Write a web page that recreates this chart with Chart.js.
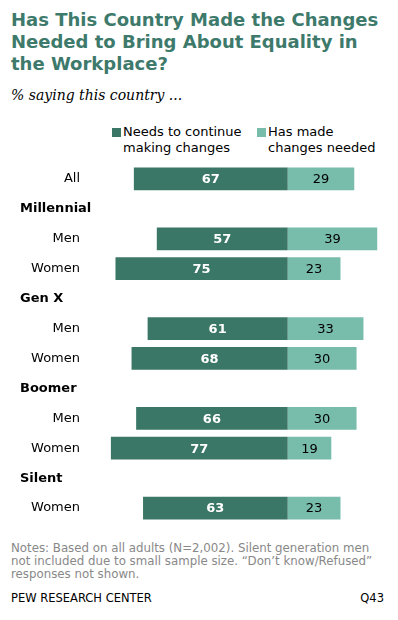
<!DOCTYPE html>
<html>
<head>
<meta charset="utf-8">
<script src="https://cdn.jsdelivr.net/npm/chart.js@4"></script>
<style>
  body { margin: 0; width: 398px; height: 620px; background: #fff; position: relative; font-family: Verdana, "DejaVu Sans", sans-serif; overflow: hidden; }
  #title { position: absolute; left: 11px; top: 9px; font-weight: bold; font-size: 18px; line-height: 22px; color: #3e7a6b; white-space: nowrap; }
  #sub { position: absolute; left: 11px; top: 87px; font-family: Georgia, "DejaVu Serif", serif; font-style: italic; font-size: 14px; }
  .leg { position: absolute; top: 124px; font-size: 13px; line-height: 16px; color: #000; }
  .leg span { position: absolute; left: 0; top: 4px; width: 9px; height: 9px; }
  .leg div { margin-left: 11px; white-space: nowrap; }
  #notes { position: absolute; left: 11px; top: 542px; font-size: 11.8px; line-height: 13px; color: #888; white-space: nowrap; }
  #src { position: absolute; left: 11px; top: 591px; font-size: 11.5px; }
  #q { position: absolute; right: 14px; top: 591px; font-size: 11.5px; }
  #wrap { position: absolute; left: 0; top: 155px; width: 398px; height: 375px; }
</style>
</head>
<body>
<div id="title">Has This Country Made the Changes<br>Needed to Bring About Equality in<br>the Workplace?</div>
<div id="sub">% saying this country ...</div>
<div class="leg" style="left:112px"><span style="background:#3b7766"></span><div>Needs to continue<br>making changes</div></div>
<div class="leg" style="left:257px"><span style="background:#78bcab"></span><div>Has made<br>changes needed</div></div>
<div id="wrap"><canvas id="myChart"></canvas></div>
<div id="notes">Notes: Based on all adults (N=2,002). Silent generation men<br>not included due to small sample size. “Don’t know/Refused”<br>responses not shown.</div>
<div id="src">PEW RESEARCH CENTER</div>
<div id="q">Q43</div>
<script>
var labels = ['All', 'Millennial', 'Men', 'Women', 'Gen X', 'Men', 'Women', 'Boomer', 'Men', 'Women', 'Silent', 'Women'];
var headers = [false, true, false, false, true, false, false, true, false, false, true, false];
var needsChanges = [67, null, 57, 75, null, 61, 68, null, 66, 77, null, 63];
var madeChanges = [29, null, 39, 23, null, 33, 30, null, 30, 19, null, 23];

var font = 'Verdana, "DejaVu Sans", sans-serif';

var labelPlugin = {
  id: 'labelPlugin',
  afterDatasetsDraw: function(chart) {
    var c = chart.ctx;
    var y = chart.scales.y;
    c.save();
    c.textBaseline = 'middle';
    labels.forEach(function(l, i) {
      var py = y.getPixelForValue(i);
      c.fillStyle = '#000';
      if (headers[i]) {
        c.font = 'bold 13px ' + font;
        c.textAlign = 'left';
        c.fillText(l, 20, py);
      } else {
        c.font = '13px ' + font;
        c.textAlign = 'right';
        c.fillText(l, 80, py);
      }
    });
    // values inside bars
    chart.data.datasets.forEach(function(ds, di) {
      var meta = chart.getDatasetMeta(di);
      meta.data.forEach(function(bar, i) {
        var v = ds.data[i];
        if (v === null) return;
        c.font = (di === 0 ? 'bold ' : '') + '13px ' + font;
        c.textAlign = 'center';
        c.fillStyle = di === 0 ? '#fff' : '#000';
        c.fillText(Math.abs(v), (bar.x + bar.base) / 2, bar.y + 1);
      });
    });
    c.restore();
  }
};

var ctx = document.getElementById('myChart').getContext('2d');
var myChart = new Chart(ctx, {
  type: 'bar',
  data: {
    labels: labels,
    datasets: [{
      label: 'Needs to continue making changes',
      data: needsChanges.map(function(v) { return v === null ? null : -v; }),
      backgroundColor: '#3b7766'
    }, {
      label: 'Has made changes needed',
      data: madeChanges,
      backgroundColor: '#78bcab'
    }]
  },
  options: {
    indexAxis: 'y',
    responsive: true,
    maintainAspectRatio: false,
    animation: false,
    layout: { padding: { left: 104, right: 7, top: 9, bottom: 7 } },
    datasets: { bar: { barPercentage: 0.76, categoryPercentage: 1 } },
    plugins: { legend: { display: false }, tooltip: { enabled: false } },
    scales: {
      x: { stacked: true, display: false, min: -80, max: 45 },
      y: { stacked: true, display: false }
    }
  },
  plugins: [labelPlugin]
});
</script>
</body>
</html>
